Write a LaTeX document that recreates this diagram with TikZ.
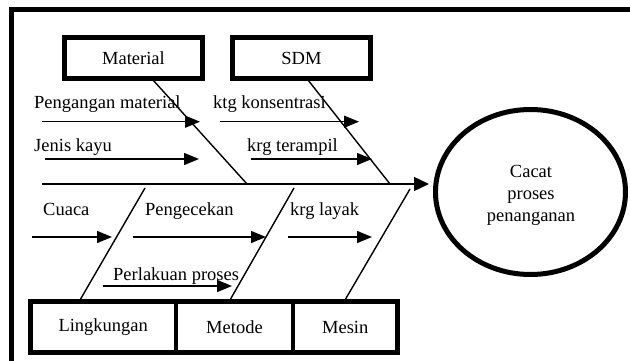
\documentclass[tikz,border=0pt]{standalone}
\usepackage{fontspec}
\setmainfont{Liberation Serif}
\usetikzlibrary{arrows.meta,shapes.geometric}
\begin{document}
\begin{tikzpicture}[x=1pt,y=-1pt,
  every node/.style={font=\fontsize{18.5}{22}\selectfont},
  catbox/.style={draw,line width=4.5pt,rectangle,minimum height=41pt,inner sep=0pt},
  botbox/.style={draw,line width=4.5pt,rectangle,minimum height=51pt,inner sep=0pt},
  lbl/.style={anchor=base west,inner sep=0pt},
  bone/.style={line width=1.4pt},
  cause/.style={line width=1.4pt,-{Triangle[length=15pt,width=12pt]}},
  spine/.style={line width=1.4pt,-{Triangle[length=15pt,width=14pt]}}]
\useasboundingbox (0,0) rectangle (630,361);
% frame
\draw[line width=5pt] (11.5,365) -- (11.5,10) -- (634,10);
% category boxes
\node[catbox,minimum width=138pt] (mat) at (133.5,58) {Material};
\node[catbox,minimum width=138pt] (sdm) at (301.5,58) {SDM};
\node[botbox,minimum width=145.5pt] (lin) at (103.25,327) {Lingkungan};
\node[botbox,minimum width=117pt] (met) at (234.5,327) {Metode};
\node[botbox,minimum width=104.5pt] (mes) at (345.25,327) {Mesin};
% effect
\node[ellipse,draw,line width=5pt,minimum width=190pt,minimum height=165pt] (eff) at (530.5,192) {};
\node[align=center,inner sep=0pt] (efft) at (531,195.5) {Cacat\\proses\\penanganan};
% spine
\coordinate (s0) at (42,184);
\coordinate (s1) at (429,184);
\draw[spine] (s0) -- (s1);
% bones
\coordinate (mb0) at (153,80);  \coordinate (mb1) at (247,184);
\coordinate (sb0) at (308,80);  \coordinate (sb1) at (390,184);
\coordinate (lb0) at (80,300);  \coordinate (lb1) at (145,188);
\coordinate (tb0) at (230,300); \coordinate (tb1) at (294,188);
\coordinate (eb0) at (345,300); \coordinate (eb1) at (410,189);
\draw[bone] (mb0) -- (mb1);
\draw[bone] (sb0) -- (sb1);
\draw[bone] (lb0) -- (lb1);
\draw[bone] (tb0) -- (tb1);
\draw[bone] (eb0) -- (eb1);
% cause labels
\node[lbl] (c1) at (34,109) {Pengangan material};
\node[lbl] (c2) at (34,152) {Jenis kayu};
\node[lbl] (c3) at (213,109) {ktg konsentrasi};
\node[lbl] (c4) at (247,152) {krg terampil};
\node[lbl] (c5) at (43,215) {Cuaca};
\node[lbl] (c6) at (145,215) {Pengecekan};
\node[lbl] (c7) at (290,215) {krg layak};
\node[lbl] (c8) at (113,280) {Perlakuan proses};
% cause arrows
\coordinate (a1) at (42,121.7);  \coordinate (b1) at (200,121.7);
\coordinate (a2) at (45,159);    \coordinate (b2) at (199,159);
\coordinate (a3) at (220,121.7); \coordinate (b3) at (359,121.7);
\coordinate (a4) at (251,159);   \coordinate (b4) at (372,159);
\coordinate (a5) at (32,237);    \coordinate (b5) at (112,237);
\coordinate (a6) at (133,237);   \coordinate (b6) at (266,237);
\coordinate (a7) at (288,237);   \coordinate (b7) at (372,237);
\coordinate (a8) at (103,286);   \coordinate (b8) at (232,286);
\foreach \i in {1,...,8} {\draw[cause] (a\i) -- (b\i);}
\end{tikzpicture}
\end{document}
